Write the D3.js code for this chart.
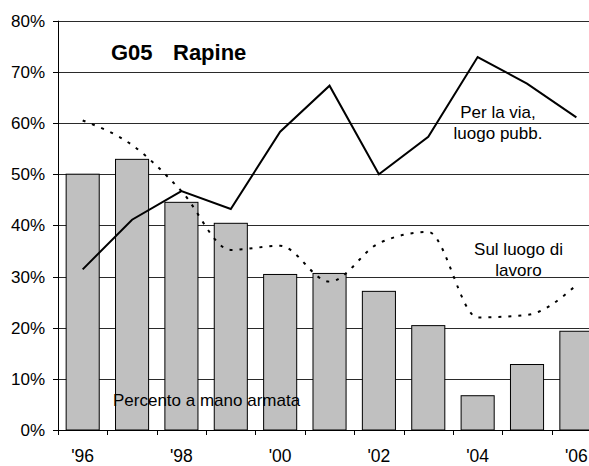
<!DOCTYPE html>
<html>
<head>
<meta charset="utf-8">
<script src="https://cdn.jsdelivr.net/npm/d3@7"></script>
<style>
  html, body { margin: 0; padding: 0; background: #fff; }
  svg { display: block; font-family: "Liberation Sans", Arial, sans-serif; }
</style>
</head>
<body>
<svg id="chart" width="589" height="466"></svg>
<script>
// ---- data ----
const years = ["1996","1997","1998","1999","2000","2001","2002","2003","2004","2005","2006"];
const yearLabels = ["'96","","'98","","'00","","'02","","'04","","'06"];
const armata = [50.0, 52.9, 44.5, 40.4, 30.4, 30.6, 27.1, 20.4, 6.7, 12.8, 19.3];       // bars
const perLaVia = [31.4, 41.1, 46.7, 43.2, 58.3, 67.3, 50.0, 57.3, 72.9, 67.7, 61.1];    // solid line
const luogoLavoro = [60.5, 55.7, 46.7, 35.2, 36.0, 29.0, 36.5, 38.7, 22.0, 22.5, 28.3]; // dotted line
const yTicks = [0, 10, 20, 30, 40, 50, 60, 70, 80];

(function () {
// ---- layout ----
const svg = d3.select("#chart");
const pLeft = 58, pTop = 20.7, pBottom = 430, step = 49.37;
const pRight = pLeft + step * years.length;

const x = d3.scaleBand().domain(years).range([pLeft, pRight])
  .paddingInner(0.33).paddingOuter(0.165);
const xb = d3.scaleLinear().domain([0, years.length]).range([pLeft, pRight]);
const y = d3.scaleLinear().domain([0, 80]).range([pBottom, pTop]);
const cx = (d, i) => x(years[i]) + x.bandwidth() / 2;

// gridlines
svg.append("g").selectAll("line").data(yTicks.filter(t => t > 0)).join("line")
  .attr("x1", pLeft).attr("x2", 589)
  .attr("y1", d => Math.round(y(d)) + 0.5).attr("y2", d => Math.round(y(d)) + 0.5)
  .attr("stroke", "#2a2a2a").attr("stroke-width", 1);

// bars
svg.append("g").selectAll("rect").data(armata).join("rect")
  .attr("x", (d, i) => x(years[i]))
  .attr("width", x.bandwidth())
  .attr("y", d => y(d))
  .attr("height", d => pBottom - y(d))
  .attr("fill", "#c0c0c0").attr("stroke", "#000").attr("stroke-width", 1);

// solid line
svg.append("path").datum(perLaVia)
  .attr("d", d3.line().x(cx).y(d => y(d)))
  .attr("fill", "none").attr("stroke", "#000").attr("stroke-width", 2);

// dotted smoothed line
svg.append("path").datum(luogoLavoro)
  .attr("d", d3.line().x(cx).y(d => y(d)).curve(d3.curveMonotoneX))
  .attr("fill", "none").attr("stroke", "#000").attr("stroke-width", 2)
  .attr("stroke-dasharray", "3,7");

// y axis
const ya = svg.append("g");
ya.append("line").attr("x1", pLeft + 0.5).attr("x2", pLeft + 0.5).attr("y1", pTop).attr("y2", pBottom)
  .attr("stroke", "#000");
ya.selectAll("line.t").data(yTicks).join("line").attr("class", "t")
  .attr("x1", pLeft - 5).attr("x2", pLeft)
  .attr("y1", d => Math.round(y(d)) + 0.5).attr("y2", d => Math.round(y(d)) + 0.5)
  .attr("stroke", "#000");
ya.selectAll("text").data(yTicks).join("text")
  .attr("x", pLeft - 13).attr("y", d => y(d)).attr("dy", "0.36em")
  .attr("text-anchor", "end").attr("font-size", 17).attr("fill", "#000")
  .text(d => d + "%");

// x axis
const xa = svg.append("g");
xa.append("line").attr("x1", pLeft).attr("x2", 589)
  .attr("y1", pBottom + 0.5).attr("y2", pBottom + 0.5).attr("stroke", "#000");
xa.selectAll("line.t").data(d3.range(years.length + 1)).join("line").attr("class", "t")
  .attr("x1", d => Math.round(xb(d)) + 0.5).attr("x2", d => Math.round(xb(d)) + 0.5)
  .attr("y1", pBottom).attr("y2", pBottom + 5).attr("stroke", "#000");
xa.selectAll("text").data(yearLabels).join("text")
  .attr("x", (d, i) => cx(d, i)).attr("y", 462)
  .attr("text-anchor", "middle").attr("font-size", 17.5).attr("fill", "#000")
  .text(d => d);

// title
svg.append("text").attr("x", 111).attr("y", 60).attr("font-size", 22).attr("font-weight", "bold").text("G05");
svg.append("text").attr("x", 173).attr("y", 60).attr("font-size", 22).attr("font-weight", "bold").text("Rapine");

// annotations
const ann = [
  {lines: ["Per la via,", "luogo pubb."], x: 498, y: 117.5},
  {lines: ["Sul luogo di", "lavoro"], x: 518.5, y: 254.5}
];
ann.forEach(a => {
  const t = svg.append("text").attr("text-anchor", "middle").attr("font-size", 17).attr("fill", "#000");
  a.lines.forEach((l, i) => t.append("tspan").attr("x", a.x).attr("y", a.y + i * 21.5).text(l));
});
svg.append("text").attr("x", 113).attr("y", 405.5).attr("font-size", 17).attr("fill", "#000")
  .text("Percento a mano armata");
})();
</script>
</body>
</html>
